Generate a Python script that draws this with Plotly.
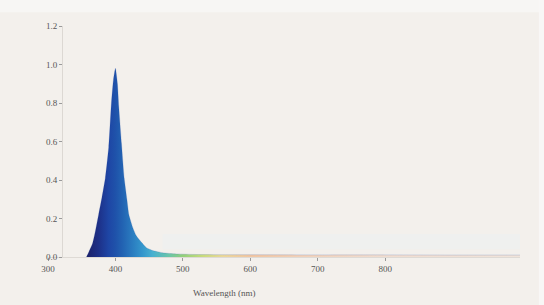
import plotly.graph_objects as go

# Spectrum
wavelength = [357, 361, 366, 370, 375, 380, 385, 390, 394, 397, 400, 403, 405, 409, 413,
              417, 420, 426, 431, 439, 446, 455, 470, 490, 520, 560, 600, 700, 800, 900, 1000]
intensity = [0.0, 0.03, 0.07, 0.13, 0.22, 0.31, 0.41, 0.57, 0.80, 0.92, 0.98, 0.90, 0.78, 0.59, 0.41,
             0.30, 0.22, 0.15, 0.11, 0.075, 0.048, 0.034, 0.022, 0.016, 0.013, 0.012, 0.012, 0.011, 0.011, 0.010, 0.010]

# faint pale band above the tail
band_wl = [470, 1000]
band_low = [0.04, 0.04]
band_high = [0.12, 0.12]

x_ticks = [300, 400, 500, 600, 700, 800]
y_ticks = [0.0, 0.2, 0.4, 0.6, 0.8, 1.0, 1.2]

# spectral colour stops (nm, colour)
stops_nm = [357, 375, 390, 400, 410, 425, 440, 455, 480, 500, 530, 560, 600, 680, 800, 1000]
stops_col = ["#1c2068", "#1d3088", "#1e46a5", "#1f52aa", "#2262b2", "#2a7cc0", "#3496cc",
             "#48b0d0", "#6cc6a8", "#93d07a", "#c9dc7c", "#ecd89a", "#f2c6a2", "#f2d2bb",
             "#f1ddd0", "#f1e4da"]
lo, hi = stops_nm[0], stops_nm[-1]
colorscale = [[(n - lo) / (hi - lo), c] for n, c in zip(stops_nm, stops_col)]

BG = "#f3f0ec"
fig = go.Figure()

fig.add_trace(go.Scatter(x=band_wl, y=band_low, mode="lines", line=dict(width=0),
                         hoverinfo="skip", showlegend=False))
fig.add_trace(go.Scatter(x=band_wl, y=band_high, mode="lines", line=dict(width=0),
                         fill="tonexty", fillcolor="rgba(238,240,240,0.9)",
                         hoverinfo="skip", showlegend=False))

fig.add_trace(go.Scatter(
    x=wavelength, y=intensity, mode="lines",
    line=dict(width=0.6, color="rgba(40,80,160,0.3)", shape="spline", smoothing=0.5),
    fill="tozeroy",
    fillgradient=dict(type="horizontal", colorscale=colorscale, start=lo, stop=hi),
    showlegend=False,
))

font = dict(family="Liberation Serif, DejaVu Serif, serif", size=9, color="#555555")

fig.update_layout(
    width=544, height=305,
    margin=dict(l=48, r=24, t=26, b=48),
    paper_bgcolor=BG, plot_bgcolor=BG,
    font=font,
    xaxis=dict(range=[300, 1000], tickvals=x_ticks, ticktext=[str(v) for v in x_ticks],
               showgrid=False, zeroline=False, showline=True, linecolor="#dedad5", linewidth=1,
               ticks="outside", ticklen=3, tickcolor="#9a9a9a", tickfont=font, automargin=False),
    yaxis=dict(range=[0, 1.2], tickvals=y_ticks, tickformat=".1f",
               showgrid=False, zeroline=False, showline=True, linecolor="#dcd8d3", linewidth=1,
               ticks="outside", ticklen=3, tickcolor="#9a9a9a", tickfont=font,
               anchor="free", position=0.03, automargin=False),
    annotations=[dict(text="Wavelength (nm)", xref="paper", yref="paper",
                      x=0.373, y=-0.157, showarrow=False, xanchor="center", yanchor="middle",
                      font=font)],
    shapes=[
        dict(type="rect", xref="paper", yref="paper", x0=-0.2, x1=1.2, y0=1.06, y1=1.2,
             fillcolor="#f7f6f4", line=dict(width=0), layer="below"),
        dict(type="rect", xref="paper", yref="paper", x0=1.04, x1=1.2, y0=-0.3, y1=1.2,
             fillcolor="#f8f7f6", line=dict(width=0), layer="below"),
    ],
)

fig.write_html("out.html", config={"displayModeBar": False},
               post_script="document.body.style.margin='0';")
